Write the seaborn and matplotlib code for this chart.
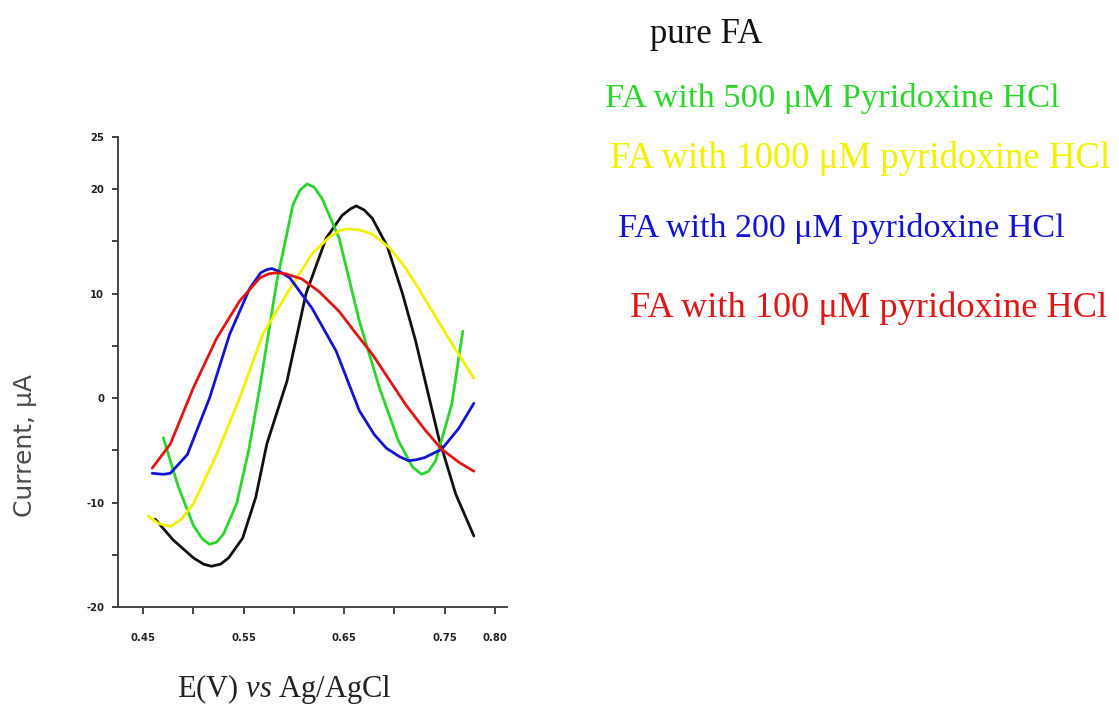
import pandas as pd
import matplotlib.pyplot as plt
import seaborn as sns

# Potential (V) / current (uA)
pure_x = [0.462, 0.480, 0.500, 0.510, 0.518, 0.527, 0.535, 0.549, 0.562, 0.573, 0.593, 0.612, 0.632,
          0.648, 0.656, 0.662, 0.670, 0.678, 0.693, 0.708, 0.721, 0.744, 0.761, 0.779]
pure_y = [-11.6, -13.6, -15.3, -15.9, -16.1, -15.9, -15.3, -13.4, -9.5, -4.4, 1.6, 10.0, 15.3,
          17.5, 18.1, 18.4, 18.0, 17.2, 14.5, 10.0, 5.5, -3.8, -9.2, -13.2]

fa500_x = [0.470, 0.485, 0.500, 0.509, 0.516, 0.523, 0.530, 0.543, 0.555, 0.566, 0.583, 0.599, 0.606,
           0.613, 0.620, 0.628, 0.645, 0.665, 0.685, 0.704, 0.718, 0.727, 0.734, 0.741, 0.757, 0.768]
fa500_y = [-3.8, -8.5, -12.2, -13.5, -14.0, -13.8, -13.0, -10.1, -5.0, 1.0, 11.2, 18.5, 19.9,
           20.5, 20.2, 19.1, 15.3, 7.4, 1.0, -4.1, -6.6, -7.3, -7.0, -6.0, -0.6, 6.4]

fa1000_x = [0.455, 0.465, 0.477, 0.488, 0.500, 0.523, 0.546, 0.569, 0.593, 0.618, 0.635, 0.645, 0.652,
            0.665, 0.678, 0.695, 0.710, 0.724, 0.754, 0.779]
fa1000_y = [-11.3, -12.0, -12.3, -11.6, -10.1, -5.4, 0.0, 6.1, 10.0, 13.8, 15.4, 16.0, 16.2,
            16.1, 15.7, 14.4, 12.6, 10.5, 5.7, 1.9]

fa200_x = [0.459, 0.470, 0.477, 0.494, 0.516, 0.536, 0.556, 0.567, 0.573, 0.578, 0.586, 0.596, 0.618,
           0.642, 0.665, 0.680, 0.692, 0.705, 0.714, 0.722, 0.730, 0.747, 0.764, 0.779]
fa200_y = [-7.2, -7.3, -7.2, -5.4, 0.0, 6.1, 10.5, 12.0, 12.3, 12.4, 12.1, 11.5, 8.6,
           4.5, -1.2, -3.5, -4.8, -5.6, -6.0, -5.9, -5.7, -4.9, -2.9, -0.5]

fa100_x = [0.459, 0.477, 0.500, 0.523, 0.546, 0.566, 0.575, 0.583, 0.592, 0.608, 0.625, 0.645, 0.660,
           0.678, 0.711, 0.730, 0.747, 0.765, 0.779]
fa100_y = [-6.7, -4.4, 1.0, 5.7, 9.3, 11.5, 11.9, 12.0, 11.9, 11.4, 10.2, 8.3, 6.4,
           4.2, -0.6, -3.0, -4.9, -6.2, -7.0]

labels = ["pure FA",
          "FA with 500 \u03bcM Pyridoxine HCl",
          "FA with 1000 \u03bcM pyridoxine HCl",
          "FA with 200 \u03bcM pyridoxine HCl",
          "FA with 100 \u03bcM pyridoxine HCl"]
colors = ["#111111", "#2bd52b", "#f2f200", "#1414d0", "#e01616"]

frames = []
for lab, xs, ys in zip(labels,
                       [pure_x, fa500_x, fa1000_x, fa200_x, fa100_x],
                       [pure_y, fa500_y, fa1000_y, fa200_y, fa100_y]):
    frames.append(pd.DataFrame({"E": xs, "I": ys, "sample": lab}))
df = pd.concat(frames, ignore_index=True)

sns.set_style("ticks")
plt.rcParams["mathtext.fontset"] = "custom"
plt.rcParams["mathtext.rm"] = "Liberation Serif"
plt.rcParams["mathtext.it"] = "Liberation Serif:italic"

fig = plt.figure(figsize=(11.19, 7.13), dpi=100)
ax = fig.add_axes([0.1055, 0.1487, 0.3476, 0.6592])

sns.lineplot(data=df, x="E", y="I", hue="sample", palette=dict(zip(labels, colors)),
             sort=False, estimator=None, linewidth=2.0, legend=False, ax=ax)

ax.set_xlim(0.425, 0.812)
ax.set_ylim(-20, 25)
sns.despine(ax=ax)
for s in ["left", "bottom"]:
    ax.spines[s].set_linewidth(1.4)
    ax.spines[s].set_color("#444444")

ax.set_xticks([0.45, 0.50, 0.55, 0.60, 0.65, 0.70, 0.75, 0.80])
ax.set_xticklabels(["0.45", "", "0.55", "", "0.65", "", "0.75", "0.80"])
ax.set_yticks([-20, -15, -10, -5, 0, 5, 10, 15, 20, 25])
ax.set_yticklabels(["-20", "", "-10", "", "0", "", "10", "", "20", "25"])
ax.tick_params(axis="x", length=5, width=1.2, pad=14, colors="#222222")
ax.tick_params(axis="y", length=4, width=1.2, pad=6, colors="#222222")
for t in ax.get_xticklabels() + ax.get_yticklabels():
    t.set_fontsize(8)
    t.set_fontweight("bold")
    t.set_fontstretch("condensed")

ax.set_xlabel("")
ax.set_ylabel("")
fig.text(0.022, 0.375, "Current, \u03bcA", rotation=90, ha="center", va="center",
         fontsize=18, color="#4a4a4a", family="DejaVu Sans")
fig.text(0.254, 0.033, "E(V) $\\mathit{vs}$ Ag/AgCl", ha="center", va="center",
         fontsize=22, color="#222222", family="Liberation Serif")

# legend written as coloured text to the right
leg_pos = [(0.581, 0.951), (0.541, 0.862), (0.545, 0.778), (0.552, 0.680), (0.563, 0.568)]
leg_size = [25, 24.8, 26.5, 24.6, 26.2]
for lab, col, (lx, ly), fs in zip(labels, colors, leg_pos, leg_size):
    fig.text(lx, ly, lab, color=col, ha="left", va="center",
             fontsize=fs, family="Liberation Serif")

plt.savefig("out.png", dpi=100)
